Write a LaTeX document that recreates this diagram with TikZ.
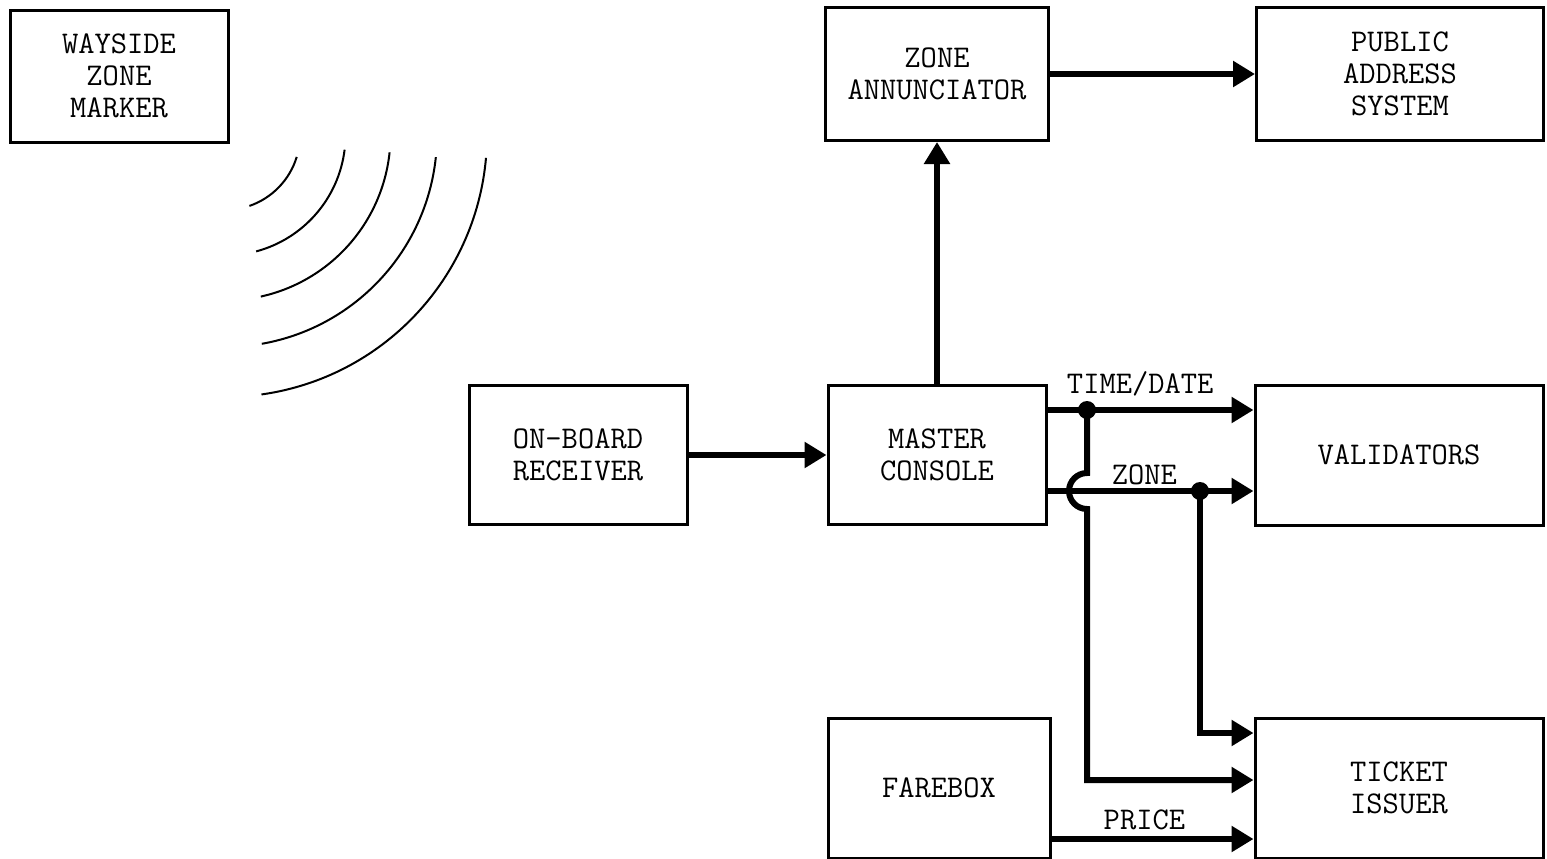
\documentclass[tikz,border=0pt]{standalone}
\usetikzlibrary{arrows.meta,positioning,calc}
\begin{document}
\begin{tikzpicture}[x=0.5pt,y=-0.5pt,every node/.style={font=\ttfamily\fontsize{15.8}{16}\selectfont}]
\tikzstyle{unit}=[draw,line width=1.5pt,fill=white,align=center,minimum width=109pt,minimum height=69.5pt,inner sep=0pt]
\tikzstyle{flow}=[-{Triangle[length=11pt,width=12.5pt]},line width=3pt]
\tikzstyle{wave}=[line width=1pt]
\tikzstyle{tag}=[anchor=base]
\useasboundingbox (0,0) rectangle (1547,858);
\node[unit,minimum height=66pt] (wayside) at (119,76) {WAYSIDE\\ZONE\\MARKER};
\node[unit] (master) at (937,455) {MASTER\\CONSOLE};
\node[unit,left=69pt of master] (recv) {ON-BOARD\\RECEIVER};
\node[unit,minimum width=111.5pt,minimum height=66.5pt,above=121pt of master] (annun) {ZONE\\ANNUNCIATOR};
\node[unit,minimum width=143.5pt,minimum height=66.5pt,right=102.5pt of annun] (pa) {PUBLIC\\ADDRESS\\SYSTEM};
\node[unit,minimum width=144pt,minimum height=70pt,right=103pt of master] (valid) {VALIDATORS};
\node[unit,minimum width=144pt,minimum height=70pt,below=95pt of valid] (ticket) {TICKET\\ISSUER};
\node[unit,minimum width=111pt,minimum height=70pt,left=101pt of ticket] (farebox) {FAREBOX};
% radio waves from the marker
\foreach \r/\s/\e in {75/17/71,120.5/7/75,165.5/6/77.5,212/6/80,262/5/82}
  \draw[wave] (225,135) ++(\s:\r) arc[start angle=\s,end angle=\e,radius=\r];
% bus taps
\coordinate (td) at (1087,410);
\coordinate (zn) at (1200,491);
\draw[flow] (annun) -- (pa);
\draw[flow] (master) -- (annun);
\draw[flow] (recv) -- (master);
\draw[flow] (master.east |- td) -- node[tag,pos=.45,yshift=8.5pt] {TIME/DATE} (valid.west |- td);
\draw[flow] (master.east |- zn) -- node[tag,pos=.47,yshift=3.5pt] {ZONE} (valid.west |- zn);
\draw[flow] (zn) |- ([yshift=27.5pt]ticket.west);
\draw[flow] (td) -- ++(0,63) arc[start angle=-90,end angle=-270,radius=18] |- ([yshift=4pt]ticket.west);
\draw[flow] ([yshift=-25.5pt]farebox.east) -- node[tag,pos=.46,yshift=5pt] {PRICE} ([yshift=-25.5pt]ticket.west);
\fill (td) circle[radius=9];
\fill (zn) circle[radius=9];
\end{tikzpicture}
\end{document}
